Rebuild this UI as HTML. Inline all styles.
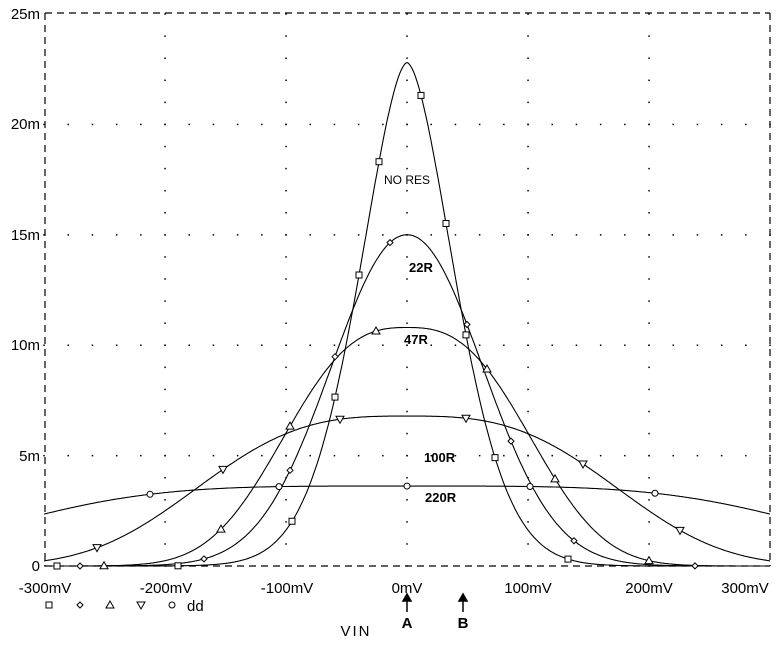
<!DOCTYPE html>
<html><head><meta charset="utf-8"><style>
html,body{margin:0;padding:0;background:#fff;}
svg{display:block;font-family:"Liberation Sans",sans-serif;}
</style></head><body>
<svg id="s" width="780" height="648" viewBox="0 0 780 648" xmlns="http://www.w3.org/2000/svg">
<g stroke="#000" stroke-width="1.2" fill="none" stroke-dasharray="7,5">
<line x1="45" y1="13" x2="770" y2="13"/>
<line x1="770" y1="13" x2="770" y2="566"/>
<line x1="45" y1="13" x2="45" y2="566"/>
<line x1="45" y1="566" x2="770" y2="566"/>
</g>
<g id="grid" fill="#000"></g>
<g id="curves" stroke="#000" stroke-width="1.1" fill="none"></g>
<g id="marks" stroke="#000" stroke-width="1" fill="#fff"></g>
<g font-size="15" fill="#000" text-anchor="end">
<text x="40" y="19">25m</text><text x="40" y="129">20m</text><text x="40" y="240">15m</text>
<text x="40" y="350">10m</text><text x="40" y="461">5m</text><text x="40" y="571">0</text>
</g>
<g font-size="15" fill="#000" text-anchor="middle">
<text x="45" y="593">-300mV</text><text x="166" y="593">-200mV</text><text x="287" y="593">-100mV</text>
<text x="407" y="593">0mV</text><text x="528" y="593">100mV</text><text x="649" y="593">200mV</text><text x="745" y="593">300mV</text>
<text x="356" y="636" letter-spacing="2">VIN</text>
<text x="407" y="628" font-weight="bold">A</text><text x="463" y="628" font-weight="bold">B</text>
</g>
<text x="187" y="611" font-size="15">dd</text>
<text x="384" y="184" font-size="12" fill="#000">NO RES</text>
<g font-size="13" font-weight="bold" fill="#000">
<text x="409" y="272">22R</text><text x="404" y="344">47R</text>
<text x="424" y="462">100R</text><text x="425" y="502">220R</text>
</g>
<g stroke="#000" stroke-width="1.5" fill="#000">
<line x1="407" y1="598" x2="407" y2="612"/><polygon points="403,601 407,594 411,601"/>
<line x1="463" y1="598" x2="463" y2="612"/><polygon points="459,601 463,594 467,601"/>
</g>
</svg>
<script>
const NS="http://www.w3.org/2000/svg";
const X=mv=>407+mv*1.21, Y=v=>566-v*22.08;
const g=document.getElementById('grid');
function dot(x,y){const r=document.createElementNS(NS,'rect');r.setAttribute('x',x-0.7);r.setAttribute('y',y-0.7);r.setAttribute('width',1.5);r.setAttribute('height',1.5);g.appendChild(r);}
for(let mv=-200;mv<=200;mv+=100){for(let v=0;v<=25;v+=1)dot(X(mv),Y(v));}
for(let v=5;v<=20;v+=5){for(let mv=-300;mv<=300;mv+=20)dot(X(mv),Y(v));}
const S=[[22.8,56.5,1.7],[15,87,2.05],[10.8,122,2.7],[6.79,200,3],[3.62,370,4]];
const f=(p,x)=>p[0]*Math.exp(-Math.pow(Math.abs(x)/p[1],p[2]));
const cg=document.getElementById('curves');
S.forEach(p=>{let d='';for(let x=-300;x<=300;x+=1){d+=(x==-300?'M':'L')+X(x).toFixed(1)+','+Y(f(p,x)).toFixed(1);}
const e=document.createElementNS(NS,'path');e.setAttribute('d',d);cg.appendChild(e);});
const mg=document.getElementById('marks');
function mk(t,x,y){let e;
if(t==0){e=document.createElementNS(NS,'rect');e.setAttribute('x',x-3);e.setAttribute('y',y-3);e.setAttribute('width',6);e.setAttribute('height',6);}
else if(t==1){e=document.createElementNS(NS,'polygon');e.setAttribute('points',`${x},${y-3} ${x+3},${y} ${x},${y+3} ${x-3},${y}`);}
else if(t==2){e=document.createElementNS(NS,'polygon');e.setAttribute('points',`${x},${y-4} ${x+4},${y+3} ${x-4},${y+3}`);}
else if(t==3){e=document.createElementNS(NS,'polygon');e.setAttribute('points',`${x},${y+4} ${x+4},${y-3} ${x-4},${y-3}`);}
else {e=document.createElementNS(NS,'circle');e.setAttribute('cx',x);e.setAttribute('cy',y);e.setAttribute('r',3);}
mg.appendChild(e);}
const P=[[57,178,292,335,359,379,421,446,466,495,568],[80,204,290,335,390,467,511,574,695],[104,221,290,376,487,555,649],[97,223,340,466,583,680],[150,279,407,530,655]];
P.forEach((xs,i)=>xs.forEach(px=>{const mv=(px-407)/1.21;mk(i,px,Y(f(S[i],mv)));}));
[49,80,110,141,172].forEach((x,i)=>mk(i,x,605));
</script>
</body></html>
